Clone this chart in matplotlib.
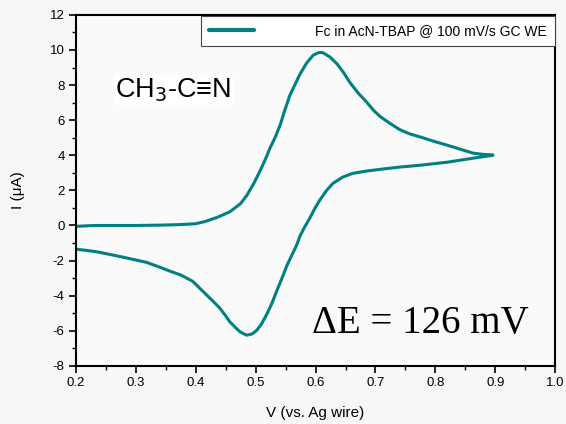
import matplotlib
matplotlib.use("Agg")
import matplotlib.pyplot as plt
from matplotlib.ticker import MultipleLocator

# Forward (anodic) scan
fwd_v = [0.200, 0.230, 0.260, 0.300, 0.340, 0.374, 0.400, 0.415, 0.435, 0.457, 0.475,
         0.485, 0.497, 0.507, 0.516, 0.524, 0.533, 0.541, 0.549, 0.557, 0.566, 0.574,
         0.585, 0.596, 0.605, 0.612, 0.624, 0.636, 0.647, 0.657, 0.671, 0.686, 0.697,
         0.708, 0.725, 0.741, 0.757, 0.774, 0.797, 0.819, 0.841, 0.863, 0.880, 0.896]
fwd_i = [-0.05, 0.00, 0.00, 0.00, 0.02, 0.05, 0.10, 0.22, 0.45, 0.78, 1.25,
         1.70, 2.40, 3.08, 3.75, 4.41, 5.05, 5.73, 6.60, 7.40, 8.05, 8.62,
         9.25, 9.70, 9.85, 9.85, 9.60, 9.20, 8.70, 8.16, 7.55, 7.00, 6.55,
         6.20, 5.80, 5.45, 5.22, 5.05, 4.80, 4.58, 4.35, 4.12, 4.05, 4.02]

# Reverse (cathodic) scan
rev_v = [0.896, 0.874, 0.847, 0.819, 0.797, 0.774, 0.741, 0.708, 0.685, 0.662, 0.645,
         0.629, 0.618, 0.607, 0.599, 0.591, 0.582, 0.574, 0.568, 0.560, 0.552, 0.544,
         0.535, 0.527, 0.518, 0.510, 0.502, 0.494, 0.485, 0.474, 0.466, 0.457, 0.449,
         0.440, 0.429, 0.418, 0.406, 0.395, 0.375, 0.357, 0.338, 0.318, 0.298, 0.278,
         0.257, 0.235, 0.218, 0.200]
rev_i = [4.00, 3.89, 3.75, 3.60, 3.52, 3.43, 3.33, 3.20, 3.10, 2.97, 2.75,
         2.40, 1.98, 1.44, 0.98, 0.46, -0.08, -0.60, -1.16, -1.72, -2.30, -3.00,
         -3.75, -4.45, -5.10, -5.60, -5.97, -6.18, -6.25, -6.06, -5.80, -5.49, -5.10,
         -4.70, -4.32, -3.95, -3.55, -3.18, -2.82, -2.60, -2.35, -2.10, -1.95, -1.80,
         -1.65, -1.50, -1.42, -1.35]

x_ticks = [0.2, 0.3, 0.4, 0.5, 0.6, 0.7, 0.8, 0.9, 1.0]
y_ticks = [-8, -6, -4, -2, 0, 2, 4, 6, 8, 10, 12]

legend_label = "Fc in AcN-TBAP @ 100 mV/s GC WE"
molecule_text = "CH$_3$-C\u2261N"
delta_text = "\u0394E = 126 mV"

color = "#008080"

plt.rcParams['font.family'] = ['Liberation Sans', 'DejaVu Sans']

fig = plt.figure(figsize=(5.66, 4.24), dpi=100, facecolor="#f7f7f7")
ax = fig.add_axes([0.134, 0.137, 0.847, 0.828])
ax.set_facecolor("#fafafa")

ax.plot(fwd_v + rev_v, fwd_i + rev_i, color=color, lw=2.2,
        solid_joinstyle='round', solid_capstyle='round', label=legend_label)

ax.set_xlim(0.2, 1.0)
ax.set_ylim(-8, 12)
ax.set_xticks(x_ticks)
ax.set_yticks(y_ticks)
ax.set_xticklabels([f"{v:.1f}" for v in x_ticks])
ax.set_yticklabels([str(v) for v in y_ticks])
ax.xaxis.set_minor_locator(MultipleLocator(0.05))
ax.yaxis.set_minor_locator(MultipleLocator(1))
ax.tick_params(which='major', direction='out', length=5, width=1.2, labelsize=9.5, pad=3)
ax.tick_params(which='minor', direction='out', length=3, width=1.0)
ax.tick_params(top=False, right=False)
for s in ax.spines.values():
    s.set_linewidth(1.5)

ax.set_xlabel("V (vs. Ag wire)", fontsize=11, labelpad=12)
ax.set_ylabel("I (\u03bcA)", fontsize=11, labelpad=18)

leg = ax.legend(loc='upper right', bbox_to_anchor=(1.0, 0.998), fontsize=10,
                frameon=True, fancybox=False, handlelength=3.25, handletextpad=4.4,
                borderpad=0.6, borderaxespad=0.0)
leg.get_frame().set_edgecolor("#444444")
leg.get_frame().set_linewidth(0.8)
leg.get_frame().set_facecolor("white")
leg.get_frame().set_alpha(1)
for line in leg.get_lines():
    line.set_linewidth(3)

ax.text(0.266, 7.7, molecule_text, fontsize=19.5, ha='left', va='center',
        family=['Liberation Sans', 'DejaVu Sans'],
        bbox=dict(facecolor='white', edgecolor='none', pad=1))
ax.text(0.594, -5.56, delta_text, fontsize=28, ha='left', va='center',
        family=['Liberation Serif', 'DejaVu Serif'])

fig.savefig("out.png", dpi=100, facecolor=fig.get_facecolor())
